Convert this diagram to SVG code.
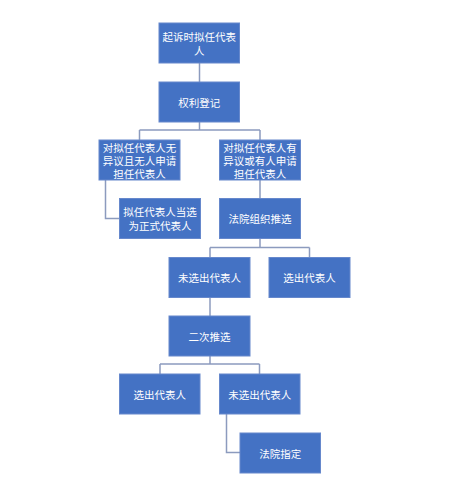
<svg xmlns="http://www.w3.org/2000/svg" width="456" height="501" viewBox="0 0 456 501">
<style>
.box{fill:#4472C4;stroke:#6688CC;stroke-width:1}
.t{fill:#ffffff;font-family:"Noto Sans CJK SC","Noto Sans",sans-serif;font-size:10.5px;text-anchor:middle;dominant-baseline:central}
.c{fill:none;stroke:#8C9BBE;stroke-width:1.5}
</style>
<rect width="456" height="501" fill="#ffffff"/>
<g id="connectors">
<path class="c" d="M199.5 63V82"/>
<path class="c" d="M199.5 122V130M139.5 130H260M139.5 130V140M260 130V140"/>
<path class="c" d="M105.5 180V218.5H119.5"/>
<path class="c" d="M260 180V198"/>
<path class="c" d="M260 238V247.5M210 247.5H309.5M210 247.5V257M309.5 247.5V257"/>
<path class="c" d="M210 297V316"/>
<path class="c" d="M210 356V364M160 364H259.5M160 364V374M259.5 364V374"/>
<path class="c" d="M226.5 414V452.5H240"/>
</g>
<g id="n1"><rect class="box" x="159" y="23" width="80.5" height="40"/><text class="t" x="199.3" y="36">起诉时拟任代表</text><text class="t" x="199.3" y="50.5">人</text></g>
<g id="n2"><rect class="box" x="159" y="82" width="80.5" height="40"/><text class="t" x="199.3" y="102">权利登记</text></g>
<g id="n3"><rect class="box" x="99" y="140" width="81" height="40"/><text class="t" x="139.5" y="147">对拟任代表人无</text><text class="t" x="139.5" y="160">异议且无人申请</text><text class="t" x="139.5" y="173">担任代表人</text></g>
<g id="n4"><rect class="box" x="219.5" y="140" width="81" height="40"/><text class="t" x="260" y="147">对拟任代表人有</text><text class="t" x="260" y="160">异议或有人申请</text><text class="t" x="260" y="173">担任代表人</text></g>
<g id="n5"><rect class="box" x="119.5" y="198.5" width="81" height="40"/><text class="t" x="160" y="211.5">拟任代表人当选</text><text class="t" x="160" y="225">为正式代表人</text></g>
<g id="n6"><rect class="box" x="219.5" y="198.5" width="81" height="40"/><text class="t" x="260" y="218.5">法院组织推选</text></g>
<g id="n7"><rect class="box" x="169" y="257.5" width="81" height="40"/><text class="t" x="209.5" y="277.5">未选出代表人</text></g>
<g id="n8"><rect class="box" x="269" y="257.5" width="81" height="40"/><text class="t" x="309.5" y="277.5">选出代表人</text></g>
<g id="n9"><rect class="box" x="169" y="316" width="81" height="40"/><text class="t" x="209.5" y="336">二次推选</text></g>
<g id="n10"><rect class="box" x="119.5" y="374" width="80.5" height="40"/><text class="t" x="159.7" y="394">选出代表人</text></g>
<g id="n11"><rect class="box" x="219.5" y="374" width="80.5" height="40"/><text class="t" x="259.7" y="394">未选出代表人</text></g>
<g id="n12"><rect class="box" x="240" y="433" width="80.5" height="40"/><text class="t" x="280.2" y="453">法院指定</text></g>
</svg>
